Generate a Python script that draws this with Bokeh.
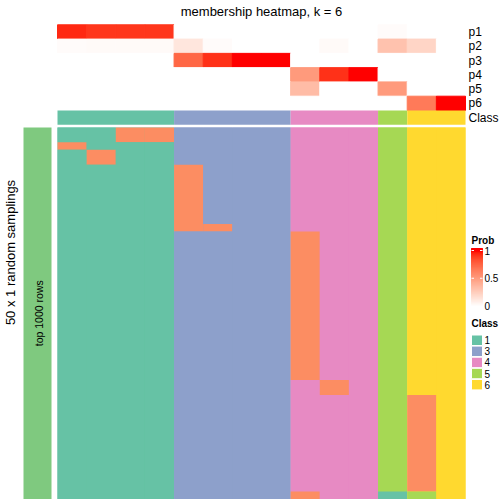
import math
from bokeh.plotting import figure
from bokeh.models import Range1d, ColumnDataSource, LinearColorMapper
from bokeh.transform import transform
from bokeh.core.properties import value
from bokeh.embed import file_html
from bokeh.resources import INLINE

# ---------------- data ----------------
title = "membership heatmap, k = 6"
prob_rows = ["p1", "p2", "p3", "p4", "p5", "p6"]
p1 = [0.95, 0.92, 0.92, 0.92, 0, 0, 0, 0, 0, 0, 0, 0.02, 0, 0]
p2 = [0.02, 0.03, 0.03, 0.03, 0.13, 0.02, 0, 0, 0, 0.03, 0, 0.32, 0.22, 0]
p3 = [0, 0, 0, 0, 0.75, 0.93, 1.0, 1.0, 0, 0, 0, 0, 0, 0]
p4 = [0, 0, 0, 0, 0, 0, 0, 0, 0.52, 0.93, 1.0, 0, 0, 0]
p5 = [0, 0, 0, 0, 0, 0, 0, 0, 0.35, 0, 0, 0.52, 0, 0]
p6 = [0, 0, 0, 0, 0, 0, 0, 0, 0, 0, 0, 0, 0.67, 1.0]
col_class = [1, 1, 1, 1, 3, 3, 3, 3, 4, 4, 4, 5, 6, 6]
legend_classes = [1, 3, 4, 5, 6]
class_colors = {1: "#66C2A5", 2: "#FC8D62", 3: "#8DA0CB", 4: "#E78AC3", 5: "#A6D854", 6: "#FFD92F"}
# 50 random samplings: class assigned to each column
samplings = (
    ["11223333444566"] * 2
    + ["21113333444566"]
    + ["12113333444566"] * 2
    + ["11112333444566"] * 8
    + ["11112233444566"]
    + ["11113333244566"] * 20
    + ["11113333424566"] * 2
    + ["11113333444526"] * 13
    + ["11113333244156"]
)
prob_ticks = [1, 0.5, 0]
prob_tick_labels = ["1", "0.5", "0"]

# ---------------- layout ----------------
X0, X1 = 57.0, 465.0
ncol = len(col_class)
cw = (X1 - X0) / ncol
TOP0, TROW = 24.3, 14.28
CLS_TOP, CLS_H = 110.0, 14.3
H0, H1 = 127.0, 498.5
nrow = len(samplings)
rh = (H1 - H0) / nrow
FONT = "Liberation Sans"


def lab_to_hex(L, a, b):
    fy = (L + 16) / 116
    fx = fy + a / 500
    fz = fy - b / 200

    def finv(t):
        return t ** 3 if t ** 3 > 0.008856 else (t - 16 / 116) / 7.787

    X = 0.95047 * finv(fx)
    Y = 1.0 * finv(fy)
    Z = 1.08883 * finv(fz)
    r = 3.2406 * X - 1.5372 * Y - 0.4986 * Z
    g = -0.9689 * X + 1.8758 * Y + 0.0415 * Z
    bb = 0.0557 * X - 0.2040 * Y + 1.0570 * Z

    def gam(c):
        c = 12.92 * c if c <= 0.0031308 else 1.055 * c ** (1 / 2.4) - 0.055
        return int(round(min(1, max(0, c)) * 255))

    return "#%02x%02x%02x" % (gam(r), gam(g), gam(bb))


W_LAB = (100.0, 0.0, 0.0)
R_LAB = (53.2408, 80.0925, 67.2032)
palette = [
    lab_to_hex(*[W_LAB[k] + (R_LAB[k] - W_LAB[k]) * i / 255 for k in range(3)])
    for i in range(256)
]
mapper = LinearColorMapper(palette=palette, low=0, high=1)

p = figure(width=504, height=504, x_range=Range1d(0, 504), y_range=Range1d(504, 0),
           output_backend="svg", toolbar_location=None, min_border=0)
p.axis.visible = False
p.grid.visible = False
p.outline_line_color = None
p.background_fill_color = "white"
p.border_fill_color = "white"

# top probability heatmap
L, R, T, B, V = [], [], [], [], []
for ri, vals in enumerate([p1, p2, p3, p4, p5, p6]):
    for ci, v in enumerate(vals):
        L.append(X0 + ci * cw)
        R.append(X0 + (ci + 1) * cw)
        T.append(TOP0 + ri * TROW)
        B.append(TOP0 + (ri + 1) * TROW)
        V.append(v)
src = ColumnDataSource(dict(left=L, right=R, top=T, bottom=B, v=V))
p.quad(left="left", right="right", top="top", bottom="bottom", source=src,
       fill_color=transform("v", mapper), line_color=transform("v", mapper), line_width=1)

# class bar: merge contiguous columns of the same class
groups = []
for ci, k in enumerate(col_class):
    if groups and groups[-1][2] == k:
        groups[-1][1] = ci + 1
    else:
        groups.append([ci, ci + 1, k])
src_c = ColumnDataSource(dict(
    left=[X0 + g[0] * cw for g in groups], right=[X0 + g[1] * cw for g in groups],
    top=[CLS_TOP] * len(groups), bottom=[CLS_TOP + CLS_H] * len(groups),
    c=[class_colors[g[2]] for g in groups]))
p.quad(left="left", right="right", top="top", bottom="bottom", source=src_c,
       fill_color="c", line_color=None)

# row labels
p.text(x=[X1 + 3] * 7, y=[TOP0 + (i + 0.5) * TROW for i in range(6)] + [CLS_TOP + CLS_H / 2],
       text=prob_rows + ["Class"], text_font=value(FONT), text_font_size="12px",
       text_baseline="middle", text_align="left", text_color="black")

# sampling heatmap: underlay per class group, then vertical runs per column
src_u = ColumnDataSource(dict(
    left=[X0 + g[0] * cw for g in groups], right=[X0 + g[1] * cw for g in groups],
    top=[H0] * len(groups), bottom=[H1] * len(groups),
    c=[class_colors[g[2]] for g in groups]))
p.quad(left="left", right="right", top="top", bottom="bottom", source=src_u,
       fill_color="c", line_color=None)
L, R, T, B, C = [], [], [], [], []
for ci in range(ncol):
    runs = []
    for ri, row in enumerate(samplings):
        k = int(row[ci])
        if runs and runs[-1][2] == k:
            runs[-1][1] = ri + 1
        else:
            runs.append([ri, ri + 1, k])
    for r0, r1, k in runs:
        L.append(X0 + ci * cw)
        R.append(X0 + (ci + 1) * cw)
        T.append(H0 + r0 * rh)
        B.append(H0 + r1 * rh)
        C.append(class_colors[k])
src_s = ColumnDataSource(dict(left=L, right=R, top=T, bottom=B, c=C))
p.quad(left="left", right="right", top="top", bottom="bottom", source=src_s,
       fill_color="c", line_color=None)

# left annotation bar
p.quad(left=[23], right=[51], top=[H0], bottom=[H1], fill_color="#7FC97F", line_color=None)
p.text(x=[38], y=[(H0 + H1) / 2], text=["top 1000 rows"], angle=math.pi / 2,
       text_font=value(FONT), text_font_size="10.5px", text_align="center",
       text_baseline="middle", text_color="black")
p.text(x=[10], y=[252], text=["50 x 1 random samplings"], angle=math.pi / 2,
       text_font=value(FONT), text_font_size="13px", text_align="center",
       text_baseline="middle", text_color="black")

# title
p.text(x=[(X0 + X1) / 2], y=[11], text=[title], text_font=value(FONT), text_font_size="13px",
       text_align="center", text_baseline="middle", text_color="black")

# Prob legend
CB_L, CB_R, CB_T, CB_B = 471, 482, 248, 305
V1Y, V0Y = 250, 305.5
p.text(x=[CB_L], y=[240], text=["Prob"], text_font=value(FONT), text_font_size="10px",
       text_font_style="bold", text_align="left", text_baseline="middle", text_color="black")
n = 120
ys = [CB_B - (CB_B - CB_T) * i / n for i in range(n + 1)]
src_cb = ColumnDataSource(dict(left=[CB_L] * n, right=[CB_R] * n, bottom=ys[:-1], top=ys[1:],
                               v=[min(1, max(0, (V0Y - (ys[i] + ys[i + 1]) / 2) / (V0Y - V1Y))) for i in range(n)]))
p.quad(left="left", right="right", top="top", bottom="bottom", source=src_cb,
       fill_color=transform("v", mapper), line_color=transform("v", mapper), line_width=1)
tick_y = [V0Y - (V0Y - V1Y) * t for t in prob_ticks]
for ty in tick_y[:2]:
    p.segment(x0=[CB_L], x1=[CB_L + 2.5], y0=[ty], y1=[ty], line_color="white", line_width=1)
    p.segment(x0=[CB_R - 2.5], x1=[CB_R], y0=[ty], y1=[ty], line_color="white", line_width=1)
p.text(x=[CB_R + 2] * 3, y=tick_y, text=prob_tick_labels, text_font=value(FONT),
       text_font_size="10px", text_align="left", text_baseline="middle", text_color="black")

# Class legend
p.text(x=[CB_L], y=[323], text=["Class"], text_font=value(FONT), text_font_size="10px",
       text_font_style="bold", text_align="left", text_baseline="middle", text_color="black")
SW_T0, SW_P, SW_H = 334.5, 11.1, 10.5
src_lg = ColumnDataSource(dict(
    left=[CB_L] * 5, right=[CB_R] * 5,
    top=[SW_T0 + i * SW_P for i in range(5)], bottom=[SW_T0 + i * SW_P + SW_H for i in range(5)],
    c=[class_colors[k] for k in legend_classes]))
p.quad(left="left", right="right", top="top", bottom="bottom", source=src_lg,
       fill_color="c", line_color="white", line_width=1)
p.text(x=[CB_R + 2] * 5, y=[SW_T0 + i * SW_P + SW_H / 2 for i in range(5)],
       text=[str(k) for k in legend_classes], text_font=value(FONT), text_font_size="10px",
       text_align="left", text_baseline="middle", text_color="black")

open("out.html", "w").write(file_html(p, INLINE))
